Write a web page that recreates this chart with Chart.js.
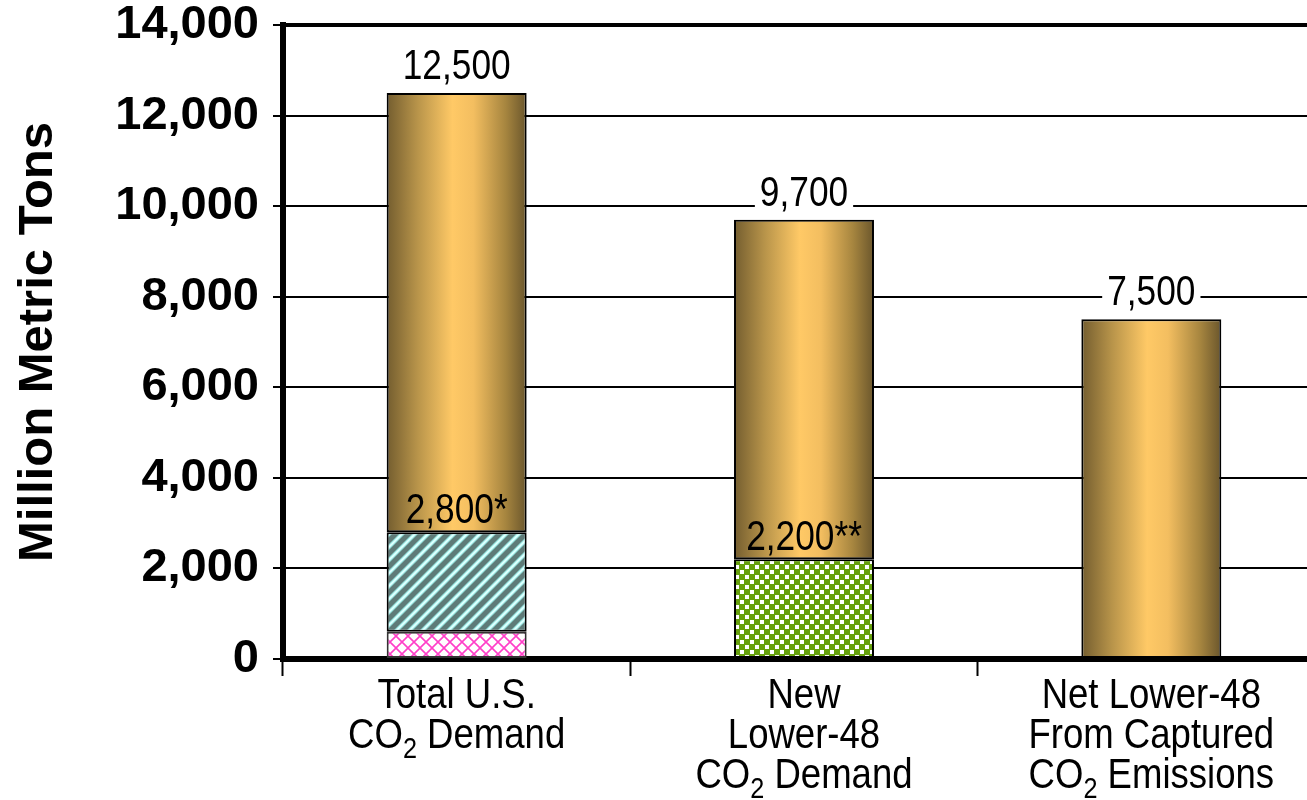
<!DOCTYPE html>
<html>
<head>
<meta charset="utf-8">
<script src="https://cdn.jsdelivr.net/npm/chart.js@4.4.1/dist/chart.umd.min.js"></script>
<style>
  html, body { margin: 0; padding: 0; background: #fff; overflow: hidden; }
  #wrap { position: relative; width: 1330px; height: 800px; }
</style>
</head>
<body>
<div id="wrap"><canvas id="chart"></canvas></div>
<script>
// ---- data ----
const categories = [
  ['Total U.S.', 'CO₂ Demand'],
  ['New', 'Lower-48', 'CO₂ Demand'],
  ['Net Lower-48', 'From Captured', 'CO₂ Emissions']
];
const totals = [12500, 9700, 7500];
const crossSegment = [600, null, null];     // pink lattice, bottom of first bar
const stripeSegment = [2200, null, null];   // diagonal stripes
const dotSegment = [null, 2200, null];      // green dotted
const totalLabels = ['12,500', '9,700', '7,500'];
const lowerLabels = ['2,800*', '2,200**', null];
const yTicks = [0, 2000, 4000, 6000, 8000, 10000, 12000, 14000];

// remaining (gold) part of each bar on top of the lower segments
const upperSegment = totals.map((t, i) =>
  t - (crossSegment[i] || 0) - (stripeSegment[i] || 0) - (dotSegment[i] || 0));

const BAR_PCT = 0.403;
const BOLD_FONT = "'Liberation Sans', Arial, sans-serif";
const TEXT_FONT = "'Liberation Sans', Arial, sans-serif";
const NARROW_NUM = 0.84;  // horizontal squeeze for the value labels
const NARROW_CAT = 0.87;  // horizontal squeeze for the category names
const TEXT_SIZE = 42;

// ---- fill patterns ----
function makeTile(w, h, draw) {
  const c = document.createElement('canvas');
  c.width = w; c.height = h;
  draw(c.getContext('2d'), w, h);
  return c;
}
const pctx = document.createElement('canvas').getContext('2d');

const crossPattern = pctx.createPattern(makeTile(12, 12, (g, w, h) => {
  g.fillStyle = '#ffffff'; g.fillRect(0, 0, w, h);
  g.strokeStyle = '#ff3fc8'; g.lineWidth = 1.6;
  g.beginPath();
  g.moveTo(0, 0); g.lineTo(w, h);
  g.moveTo(0, h); g.lineTo(w, 0);
  g.stroke();
}), 'repeat');

function diag(g, w, h) {
  g.beginPath();
  for (let k = -1; k <= 1; k++) {
    g.moveTo(k * w - 3, h + 3);
    g.lineTo(k * w + w + 3, -3);
  }
  g.stroke();
}
const stripePattern = pctx.createPattern(makeTile(13, 13, (g, w, h) => {
  g.fillStyle = '#5e7b78'; g.fillRect(0, 0, w, h);
  g.strokeStyle = '#8fd6d2'; g.lineWidth = 4.2; diag(g, w, h);
  g.strokeStyle = '#c6fffb'; g.lineWidth = 2.6; diag(g, w, h);
  g.strokeStyle = '#eaffff'; g.lineWidth = 1; diag(g, w, h);
}), 'repeat');

const dotPattern = pctx.createPattern(makeTile(10, 10, (g, w, h) => {
  g.fillStyle = '#66a00c'; g.fillRect(0, 0, w, h);
  g.fillStyle = '#ffffff';
  g.fillRect(0, 0, 4, 4);
  g.fillRect(5, 5, 4, 4);
}), 'repeat');

// golden cylinder-like shading across each bar
function goldFill(ctx) {
  const chart = ctx.chart;
  const xs = chart.scales && chart.scales.x;
  if (!xs || ctx.dataIndex === undefined || !isFinite(xs.width)) return '#e8b85a';
  const cx = xs.getPixelForValue(ctx.dataIndex);
  const w = xs.width / categories.length * BAR_PCT;
  const g = chart.ctx.createLinearGradient(cx - w / 2, 0, cx + w / 2, 0);
  g.addColorStop(0.00, '#735d2f');
  g.addColorStop(0.22, '#b8944a');
  g.addColorStop(0.47, '#ffc966');
  g.addColorStop(0.62, '#f3be60');
  g.addColorStop(0.85, '#a6853f');
  g.addColorStop(1.00, '#6a562c');
  return g;
}

// ---- text helpers ----
function narrowText(ctx, text, cx, baseline, size, squeeze) {
  ctx.save();
  ctx.font = size + 'px ' + TEXT_FONT;
  ctx.textAlign = 'center';
  ctx.textBaseline = 'alphabetic';
  ctx.translate(cx, baseline);
  ctx.scale(squeeze, 1);
  ctx.fillText(text, 0, 0);
  ctx.restore();
}
function narrowWidth(ctx, text, size, squeeze) {
  ctx.font = size + 'px ' + TEXT_FONT;
  return ctx.measureText(text).width * squeeze;
}
function drawWithSubscript(ctx, text, cx, baseline, size) {
  const subSize = Math.round(size * 0.7);
  const parts = text.split('₂');
  const segs = [];
  parts.forEach((p, i) => {
    if (p) segs.push({ t: p, sub: false });
    if (i < parts.length - 1) segs.push({ t: '2', sub: true });
  });
  let total = 0;
  segs.forEach(s => { s.w = narrowWidth(ctx, s.t, s.sub ? subSize : size, NARROW_CAT); total += s.w; });
  let x = cx - total / 2;
  segs.forEach(s => {
    narrowText(ctx, s.t, x + s.w / 2, s.sub ? baseline + 10 : baseline, s.sub ? subSize : size, NARROW_CAT);
    x += s.w;
  });
}

const labelPlugin = {
  id: 'barText',
  afterDatasetsDraw(chart) {
    const ctx = chart.ctx;
    const xs = chart.scales.x, ys = chart.scales.y;
    ctx.save();
    // totals above bars, on white so grid lines break behind them
    totals.forEach((t, i) => {
      const cx = xs.getPixelForValue(i);
      const base = ys.getPixelForValue(t) - 14;
      const w = narrowWidth(ctx, totalLabels[i], TEXT_SIZE, NARROW_NUM);
      ctx.fillStyle = '#fff';
      ctx.fillRect(cx - w / 2 - 5, base - 33, w + 10, 38);
      ctx.fillStyle = '#000';
      narrowText(ctx, totalLabels[i], cx, base, TEXT_SIZE, NARROW_NUM);
    });
    // values of the lower segments, written on the gold part
    ctx.fillStyle = '#000';
    lowerLabels.forEach((lab, i) => {
      if (!lab) return;
      const v = (crossSegment[i] || 0) + (stripeSegment[i] || 0) + (dotSegment[i] || 0);
      const cx = xs.getPixelForValue(i);
      narrowText(ctx, lab, cx, ys.getPixelForValue(v) - 9, TEXT_SIZE, NARROW_NUM);
    });
    // category names under the axis
    categories.forEach((lines, i) => {
      const cx = xs.getPixelForValue(i);
      lines.forEach((ln, k) => drawWithSubscript(ctx, ln, cx, 708 + k * 40, TEXT_SIZE));
    });
    ctx.restore();
  }
};

// ---- chart ----
const barCommon = {
  borderColor: '#000',
  borderWidth: 2,
  borderSkipped: false,
  categoryPercentage: 1,
  barPercentage: BAR_PCT
};

new Chart(document.getElementById('chart'), {
  type: 'bar',
  data: {
    labels: categories,
    datasets: [
      Object.assign({ label: 'cross', data: crossSegment, backgroundColor: crossPattern }, barCommon, { borderColor: '#333' }),
      Object.assign({ label: 'stripes', data: stripeSegment, backgroundColor: stripePattern }, barCommon),
      Object.assign({ label: 'dots', data: dotSegment, backgroundColor: dotPattern }, barCommon),
      Object.assign({ label: 'gold', data: upperSegment, backgroundColor: goldFill }, barCommon)
    ]
  },
  options: {
    responsive: true,
    maintainAspectRatio: false,
    animation: false,
    layout: { padding: { top: 25, right: 5, left: 0, bottom: 0 } },
    plugins: { legend: { display: false }, tooltip: { enabled: false } },
    scales: {
      x: {
        stacked: true,
        offset: true,
        grid: {
          display: true, offset: true, drawOnChartArea: false,
          drawTicks: true, tickLength: 17, tickWidth: 2, tickColor: '#000', color: '#000'
        },
        ticks: { display: false },
        border: { display: true, width: 6, color: '#000' },
        afterFit: s => { s.height = 141; s.paddingLeft = 0; s.paddingRight = 0; }
      },
      y: {
        stacked: true,
        min: 0,
        max: 14000,
        afterBuildTicks: s => { s.ticks = yTicks.map(v => ({ value: v })); },
        ticks: {
          color: '#000',
          padding: 14,
          font: { family: BOLD_FONT, size: 47, weight: 'bold', lineHeight: 1 },
          callback: v => v.toLocaleString('en-US')
        },
        grid: {
          color: '#000',
          lineWidth: c => (c.tick && c.tick.value === 14000 ? 4 : 2),
          drawTicks: true, tickLength: 10, tickWidth: 2, tickColor: '#000'
        },
        border: { display: true, width: 6, color: '#000' },
        title: {
          display: true,
          text: 'Million Metric Tons',
          color: '#000',
          font: { family: BOLD_FONT, size: 49, weight: 'bold', lineHeight: 1.2 },
          padding: { top: 9, bottom: 0 }
        },
        afterFit: s => { s.width = 283; s.paddingTop = 0; s.paddingBottom = 0; }
      }
    }
  },
  plugins: [labelPlugin]
});
</script>
</body>
</html>
